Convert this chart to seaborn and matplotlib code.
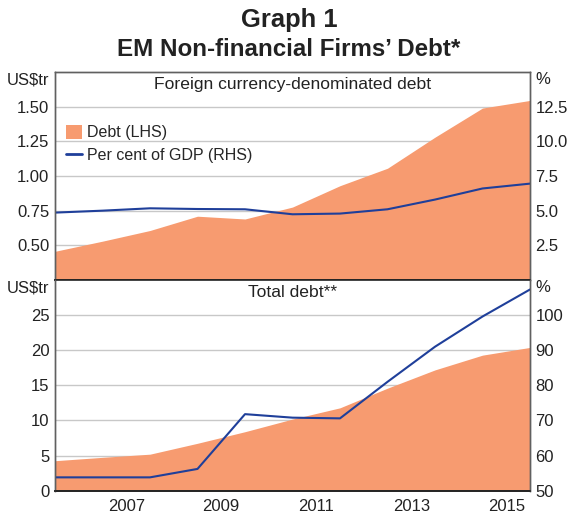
import matplotlib
matplotlib.use("Agg")
import matplotlib.pyplot as plt
import seaborn as sns
import numpy as np
from matplotlib.patches import Patch
from matplotlib.lines import Line2D

# ---- data (year-end observations, 2005..2015, plotted at start of following year) ----
positions = [2006, 2007, 2008, 2009, 2010, 2011, 2012, 2013, 2014, 2015, 2016]
fx_debt = [0.457, 0.53, 0.607, 0.71, 0.69, 0.776, 0.93, 1.056, 1.28, 1.49, 1.545]
fx_pct_gdp = [4.86, 5.0, 5.17, 5.12, 5.1, 4.74, 4.79, 5.1, 5.8, 6.6, 6.95]
total_debt = [4.27, 4.75, 5.2, 6.75, 8.4, 10.2, 11.8, 14.6, 17.2, 19.3, 20.4]
total_pct_gdp = [53.8, 53.8, 53.8, 56.2, 71.8, 70.8, 70.6, 81.0, 91.0, 99.6, 107.3]

year_labels = ["2007", "2009", "2011", "2013", "2015"]
year_label_pos = [2007.5, 2009.5, 2011.5, 2013.5, 2015.5]
top_left_ticks = [0.50, 0.75, 1.00, 1.25, 1.50]
top_right_ticks = [2.5, 5.0, 7.5, 10.0, 12.5]
bot_left_ticks = [0, 5, 10, 15, 20, 25]
bot_right_ticks = [50, 60, 70, 80, 90, 100]

ORANGE = "#F79B70"
BLUE = "#1F3F9A"
GRID = "#C8C8C8"
SPINE = "#606060"
DARK = "#222222"

sns.set_style("white")
plt.rcParams["font.family"] = ["Liberation Sans", "DejaVu Sans"]
plt.rcParams["font.size"] = 12

fig = plt.figure(figsize=(5.78, 5.16), dpi=100)
L, W = 55 / 578, (530 - 55) / 578
ax1 = fig.add_axes([L, 1 - 280 / 516, W, (280 - 72) / 516])
ax2 = fig.add_axes([L, 1 - 490.7 / 516, W, (490.7 - 280) / 516])
ax1r = ax1.twinx()
ax2r = ax2.twinx()

# areas (LHS)
ax1.fill_between(positions, fx_debt, 0, color=ORANGE, linewidth=0, zorder=2)
ax2.fill_between(positions, total_debt, 0, color=ORANGE, linewidth=0, zorder=2)
# lines (RHS)
sns.lineplot(x=positions, y=fx_pct_gdp, ax=ax1r, color=BLUE, linewidth=1.5)
sns.lineplot(x=positions, y=total_pct_gdp, ax=ax2r, color=BLUE, linewidth=1.5)

for ax in (ax1, ax2):
    ax.set_xlim(2006, 2016)

ax1.set_ylim(0.25, 1.75)
ax1r.set_ylim(0, 15)
ax2.set_ylim(0, 30)
ax2r.set_ylim(50, 110)

ax1.set_yticks(top_left_ticks)
ax1.set_yticklabels([f"{v:.2f}" for v in top_left_ticks])
ax1r.set_yticks(top_right_ticks)
ax1r.set_yticklabels([f"{v:.1f}" for v in top_right_ticks])
ax2.set_yticks(bot_left_ticks)
ax2.set_yticklabels([str(v) for v in bot_left_ticks])
ax2r.set_yticks(bot_right_ticks)
ax2r.set_yticklabels([str(v) for v in bot_right_ticks])

for ax in (ax1, ax2):
    ax.yaxis.grid(True, color=GRID, linewidth=1.0, zorder=1)
    ax.set_axisbelow(True)
for ax in (ax1, ax1r, ax2, ax2r):
    ax.tick_params(axis="y", length=0, pad=4, labelsize=12, colors="#222222")
    ax.set_ylabel("")

# x axis
ax1.set_xticks([])
ax1.tick_params(axis="x", length=0, labelbottom=False)
ax2.set_xticks(list(range(2006, 2017)))
ax2.set_xticklabels([])
ax2.set_xticks(year_label_pos, minor=True)
ax2.set_xticklabels(year_labels, minor=True)
ax2.tick_params(axis="x", which="major", direction="in", length=6, color=DARK, width=1)
ax2.tick_params(axis="x", which="minor", length=0, pad=6, labelsize=12, colors="#222222")
for ax in (ax1r, ax2r):
    ax.tick_params(axis="x", length=0, labelbottom=False)

# spines
for ax in (ax1, ax1r, ax2, ax2r):
    for s in ("left", "right", "top"):
        ax.spines[s].set_color(SPINE)
        ax.spines[s].set_linewidth(1.0)
    ax.spines["bottom"].set_color(DARK)
    ax.spines["bottom"].set_linewidth(1.2)
ax2.spines["top"].set_visible(False)
ax2r.spines["top"].set_visible(False)

# unit labels
for ax in (ax1, ax2):
    ax.text(-0.012, 1.0, "US$tr", transform=ax.transAxes, ha="right", va="top", fontsize=12, color="#222222")
    ax.text(1.012, 1.0, "%", transform=ax.transAxes, ha="left", va="top", fontsize=12, color="#222222")

ax1.text(0.5, 0.975, "Foreign currency-denominated debt", transform=ax1.transAxes,
         ha="center", va="top", fontsize=12.6, color="#222222")
ax2.text(0.5, 0.975, "Total debt**", transform=ax2.transAxes,
         ha="center", va="top", fontsize=12.6, color="#222222")

handles = [Patch(facecolor=ORANGE, edgecolor="none"),
           Line2D([0], [0], color=BLUE, linewidth=2)]
ax1r.legend(handles, ["Debt (LHS)", "Per cent of GDP (RHS)"], loc="upper left",
            bbox_to_anchor=(0.0, 0.80), frameon=False, fontsize=11.5,
            handlelength=1.0, handleheight=1.0, handletextpad=0.3, labelspacing=0.45,
            borderaxespad=0.3)

fig.text(0.5, 1 - 20 / 516, "Graph 1", ha="center", va="center", fontsize=18.4, fontweight="bold", color="#222222")
fig.text(0.5, 1 - 50 / 516, "EM Non-financial Firms\u2019 Debt*", ha="center", va="center",
         fontsize=17.4, fontweight="bold", color="#222222")

fig.savefig("out.png", dpi=100)
